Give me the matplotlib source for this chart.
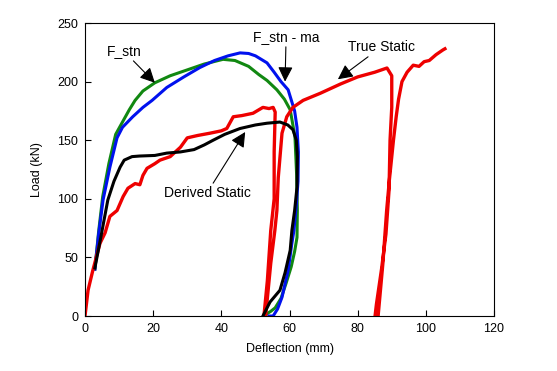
import matplotlib.pyplot as plt
import numpy as np

plt.rcParams['font.family'] = ['Liberation Sans', 'DejaVu Sans']

# F_stn (green)
fstn_x = [2.9, 4, 5.2, 7, 9, 10.9, 13, 14.7, 17, 20.5, 25, 30, 35, 40.5, 44, 48, 51, 53.4, 56.3, 58.5, 60.2, 61.6,
          62.1, 62.3, 62.2, 61.5, 60.5, 59, 57.5, 55.8, 54.5, 53.4, 52.8]
fstn_y = [40, 72, 102, 130, 155, 165, 176, 184, 192, 199, 205, 210, 215, 219, 218, 213, 206, 201, 193, 185, 176, 153,
          120, 90, 67, 55, 42, 28, 15, 7, 4, 2, 0]

# F_stn - ma (blue)
fma_x = [2.9, 4, 5.3, 7.3, 9.4, 11, 14, 17, 19.7, 24, 29, 33.7, 38, 42, 45.5, 48, 50, 53.4, 55.5, 57.5, 59.6, 61.5,
         62.2, 62.6, 62.5, 62, 61.3, 60.7, 59.6, 57.8, 56.5, 55.2, 54]
fma_y = [40, 70, 99, 127, 152, 161, 170, 178, 184, 195, 204, 212, 218, 222, 224.5, 224, 222, 216, 208, 200, 193, 175,
         161, 140, 115, 95, 73, 62, 39, 16, 6, 0, 0]

# True Static (red)
ts_x = [0, 0.9, 2.3, 4.4, 5.9, 7.3, 9.4, 11.2, 12.6, 14.7, 16.1, 17, 18.2, 20.5, 22, 25, 28, 30, 33, 36.7, 40,
        41.6, 43.5, 46, 49.3, 52.2, 54, 55.2, 55.8, 55.5, 55.5, 54.5, 53.5, 52.5,
        53, 54.5, 55.7, 56.3, 56.7, 57.8, 59.2, 61, 64, 69, 75, 80, 85, 88.6,
        90, 90, 89.5, 89.2, 88.3, 87, 85.5, 85.1,
        86, 87.4, 88.5, 89.3, 90.5, 91.3, 92, 93, 94.5, 96.3, 98, 99.5, 101, 103, 105, 105.6]
ts_y = [0, 22, 39, 62, 71, 85, 90, 102, 109, 113, 112, 120, 126, 130, 133, 136, 144, 152, 154, 156, 158,
        160, 170, 171, 173, 178, 177, 178, 174, 140, 100, 73, 30, 0,
        0, 45, 73, 90, 118, 156, 170, 178, 184, 190, 198, 204, 208, 211.6,
        205, 178, 150, 107, 70, 40, 10, 0,
        0, 45, 90, 116, 150, 170, 185, 200, 208, 214, 213, 217, 218, 223, 227, 228]

# Derived Static (black)
ds_x = [2.9, 4.5, 6.7, 8.5, 10.3, 11.5, 13.8, 16, 20.5, 24, 28, 32, 35, 37.6, 41, 45.5, 50, 53.4, 57.2, 59.5, 61,
        62, 62.3, 62.2, 61.5, 60.7, 60.2, 58.7, 57.2, 54.3, 52.2]
ds_y = [41, 65, 99, 115, 127, 133, 136, 136.5, 137, 139, 140, 142, 146, 150, 155, 160, 163, 164.5, 165.5, 163, 159,
        150, 136, 110, 90, 73, 56, 37, 22, 12, 0]

x_ticks = [0, 20, 40, 60, 80, 100, 120]
y_ticks = [0, 50, 100, 150, 200, 250]

fig = plt.figure(figsize=(5.57, 3.71), dpi=100)
ax = fig.add_axes([0.1526, 0.1482, 0.7343, 0.7898])

ax.plot(fstn_x, fstn_y, color='#118811', lw=2.2)
ax.plot(fma_x, fma_y, color='#0011ee', lw=2.2)
ax.plot(ts_x, ts_y, color='#ee0000', lw=2.4)
ax.plot(ds_x, ds_y, color='black', lw=2.2)

ax.set_xlim(0, 120)
ax.set_ylim(0, 250)
ax.set_xticks(x_ticks)
ax.set_yticks(y_ticks)
ax.tick_params(direction='in', length=4, labelsize=9, pad=5)
ax.set_xlabel('Deflection (mm)', fontsize=9, labelpad=6)
ax.set_ylabel('Load (kN)', fontsize=9, labelpad=10)

# notes with arrows
arr = dict(arrowstyle='-|>,head_length=0.9,head_width=0.45', color='black', lw=0.8, shrinkA=0, shrinkB=0)
ax.annotate('F_stn', xy=(20.5, 199), xytext=(11.4, 226), fontsize=10, ha='center', va='center',
            arrowprops=arr)
ax.annotate('F_stn - ma', xy=(58.7, 200), xytext=(59, 238), fontsize=10, ha='center', va='center',
            arrowprops=arr)
ax.annotate('True Static', xy=(74.2, 202), xytext=(86.9, 229.5), fontsize=10, ha='center', va='center',
            arrowprops=arr)
ax.annotate('Derived Static', xy=(47, 157), xytext=(35.8, 105), fontsize=10, ha='center', va='center',
            arrowprops=arr)

fig.savefig('out.png', dpi=100)
